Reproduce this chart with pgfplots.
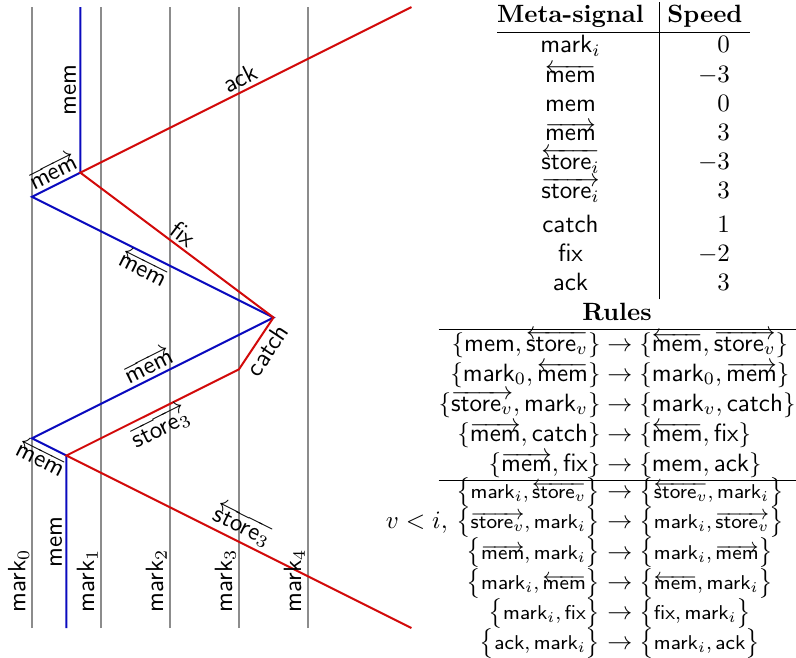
\documentclass[border=0pt]{standalone}
\usepackage{pgfplots}
\pgfplotsset{compat=1.18}
\usepackage{array}
\definecolor{sigblue}{RGB}{10,10,190}
\definecolor{sigred}{RGB}{210,10,10}
\definecolor{markgray}{RGB}{140,140,140}
\newcommand{\sig}[1]{\textsf{#1}}
\newcommand{\lmem}{\overleftarrow{\sig{mem}}}
\newcommand{\rmem}{\overrightarrow{\sig{mem}}}
\newcommand{\fs}[1]{\mbox{\footnotesize$#1$}}
\begin{document}
\begin{tikzpicture}[lbl/.style={inner sep=1.5pt}]
\useasboundingbox (0,0) rectangle (318.4pt,262.8pt);
\begin{axis}[
  at={(12.8pt,11.6pt)}, anchor=south west,
  scale only axis, width=151.8pt, height=248.4pt,
  xmin=0, xmax=5.5, ymin=0, ymax=6,
  hide axis, clip=false,
  every axis plot/.style={line width=0.8pt, mark=none},
]
% mark_i, speed 0
\addplot[markgray] coordinates {(0,0) (0,6)};
\addplot[markgray] coordinates {(1,0) (1,6)};
\addplot[markgray] coordinates {(2,0) (2,6)};
\addplot[markgray] coordinates {(3,0) (3,6)};
\addplot[markgray] coordinates {(4,0) (4,6)};
% mem signals
\addplot[sigblue] coordinates {(0.5,0) (0.5,1.6667) (0,1.8333) (3.5,3) (0,4.1667) (0.7,4.4) (0.7,6)};
% store, catch, fix, ack
\addplot[sigred] coordinates {(5.5,0) (0.5,1.6667) (3,2.5) (3.5,3) (0.7,4.4) (5.5,6)};

\foreach \i in {0,...,4}{
  \edef\temp{\noexpand\node[rotate=90, anchor=south west, inner sep=1pt] at (axis cs:\i,0.12) {\noexpand\sig{mark}$_{\i}$};}
  \temp
}
\node[lbl, rotate=90, anchor=south] at (axis cs:0.5,0.83) {\sig{mem}};
\node[lbl, rotate=-26.57, anchor=south] at (axis cs:2.95,0.85) {$\overleftarrow{\sig{store}_3}$};
\node[lbl, rotate=-26.57, anchor=north] at (axis cs:0.22,1.76) {$\lmem$};
\node[lbl, rotate=26.57, anchor=north] at (axis cs:1.75,2.083) {$\overrightarrow{\sig{store}_3}$};
\node[lbl, rotate=26.57, anchor=south] at (axis cs:1.77,2.423) {$\rmem$};
\node[lbl, rotate=56.3, anchor=north] at (axis cs:3.255,2.755) {\sig{catch}};
\node[lbl, rotate=-26.57, anchor=north] at (axis cs:1.71,3.597) {$\lmem$};
\node[lbl, rotate=-36.87, anchor=south] at (axis cs:2.08,3.71) {\sig{fix}};
\node[lbl, rotate=26.57, anchor=south] at (axis cs:0.39,4.297) {$\rmem$};
\node[lbl, rotate=26.57, anchor=south] at (axis cs:3.1,5.2) {\sig{ack}};
\node[lbl, rotate=90, anchor=south] at (axis cs:0.7,5.2) {\sig{mem}};
\end{axis}

\node[anchor=north, inner sep=0pt] at (249.4pt,262pt) {%
\renewcommand{\arraystretch}{0.97}%
\begin{tabular}{@{}c@{\hspace{6pt}}|@{\hspace{3pt}}r@{\hspace{3pt}}}
\textbf{Meta-signal} & \textbf{Speed}\\ \hline
\sig{mark}$_i$ & $0$\kern5pt\\
$\smash{\lmem}$ & $-3$\kern5pt\\
\sig{mem} & $0$\kern5pt\\
$\smash{\rmem}$ & $3$\kern5pt\\
$\smash{\overleftarrow{\sig{store}_i}}$ & $-3$\kern5pt\\
$\smash{\overrightarrow{\sig{store}_i}}$ & $3$\kern5pt\\[2pt]
\sig{catch} & $1$\kern5pt\\
\sig{fix} & $-2$\kern5pt\\
\sig{ack} & $3$\kern5pt
\end{tabular}};

\node[anchor=north east, inner sep=0pt] at (318.4pt,143.4pt) {%
\begin{tabular}{@{}>{$}r<{$}@{}>{$}c<{$}@{}>{$}l<{$}@{}}
\multicolumn{3}{c}{\textbf{Rules}}\\ \hline
\{\sig{mem},\overleftarrow{\sig{store}_v}\} & {}\rightarrow{} & \{\lmem,\overrightarrow{\sig{store}_v}\}\\
\{\sig{mark}_0,\lmem\} & {}\rightarrow{} & \{\sig{mark}_0,\rmem\}\\
\{\overrightarrow{\sig{store}_v},\sig{mark}_v\} & {}\rightarrow{} & \{\sig{mark}_v,\sig{catch}\}\\
\{\rmem,\sig{catch}\} & {}\rightarrow{} & \{\lmem,\sig{fix}\}\\
\{\rmem,\sig{fix}\} & {}\rightarrow{} & \{\sig{mem},\sig{ack}\}\\ \hline
\noalign{\vskip-1.5pt}
\bigl\{\fs{\sig{mark}_i,\overleftarrow{\sig{store}_v}}\bigr\} & {}\rightarrow{} & \bigl\{\fs{\overleftarrow{\sig{store}_v},\sig{mark}_i}\bigr\}\\
\llap{$v<i,\ $}\bigl\{\fs{\overrightarrow{\sig{store}_v},\sig{mark}_i}\bigr\} & {}\rightarrow{} & \bigl\{\fs{\sig{mark}_i,\overrightarrow{\sig{store}_v}}\bigr\}\\
\bigl\{\fs{\rmem,\sig{mark}_i}\bigr\} & {}\rightarrow{} & \bigl\{\fs{\sig{mark}_i,\rmem}\bigr\}\\
\bigl\{\fs{\sig{mark}_i,\lmem}\bigr\} & {}\rightarrow{} & \bigl\{\fs{\lmem,\sig{mark}_i}\bigr\}\\
\bigl\{\fs{\sig{mark}_i,\sig{fix}}\bigr\} & {}\rightarrow{} & \bigl\{\fs{\sig{fix},\sig{mark}_i}\bigr\}\\
\bigl\{\fs{\sig{ack},\sig{mark}_i}\bigr\} & {}\rightarrow{} & \bigl\{\fs{\sig{mark}_i,\sig{ack}}\bigr\}
\end{tabular}};
\end{tikzpicture}
\end{document}
